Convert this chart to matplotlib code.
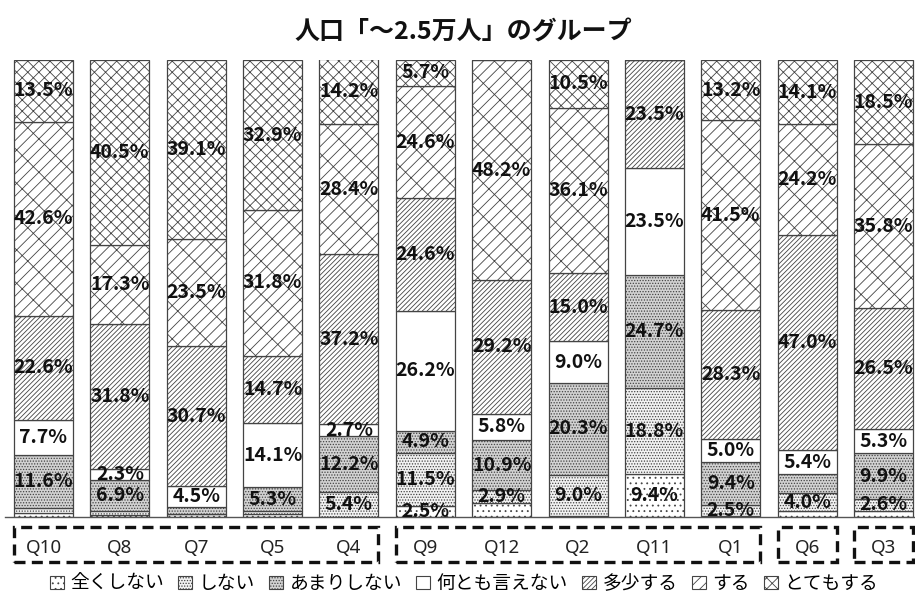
import numpy as np
import matplotlib
matplotlib.use("Agg")
import matplotlib.pyplot as plt
from matplotlib.patches import Rectangle, Patch

plt.rcParams['font.family'] = ['Noto Sans CJK JP', 'DejaVu Sans']
plt.rcParams['hatch.linewidth'] = 0.6

# 質問項目（左から）
questions = ["Q10", "Q8", "Q7", "Q5", "Q4", "Q9", "Q12", "Q2", "Q11", "Q1", "Q6", "Q3"]

# 回答の割合（%）、下から積み上げ
zenku   = [0.9, 0.4, 0.7, 0.6, 0.0, 2.5, 3.0, 0.1, 9.4, 0.1, 1.2, 1.4]
shinai  = [1.1, 0.8, 0.0, 0.6, 5.4, 11.5, 2.9, 9.0, 18.8, 2.5, 4.0, 2.6]
amari   = [11.6, 6.9, 1.5, 5.3, 12.2, 4.9, 10.9, 20.3, 24.7, 9.4, 4.1, 9.9]
nantomo = [7.7, 2.3, 4.5, 14.1, 2.7, 26.2, 5.8, 9.0, 23.5, 5.0, 5.4, 5.3]
tashou  = [22.6, 31.8, 30.7, 14.7, 37.2, 24.6, 29.2, 15.0, 23.5, 28.3, 47.0, 26.5]
suru    = [42.6, 17.3, 23.5, 31.8, 28.4, 24.6, 48.2, 36.1, 0.0, 41.5, 24.2, 35.8]
totemo  = [13.5, 40.5, 39.1, 32.9, 14.2, 5.7, 0.0, 10.5, 0.0, 13.2, 14.1, 18.5]

series_names = ["全くしない", "しない", "あまりしない", "何とも言えない", "多少する", "する", "とてもする"]
series = [zenku, shinai, amari, nantomo, tashou, suru, totemo]

# 数値を出さない区分（系列番号, 設問）
no_label = {(2, "Q6"), (0, "Q12")}

# 設問のまとまり（左端, 右端のインデックス）
groups = [(0, 4), (5, 9), (10, 10), (11, 11)]

# 塗りと網掛け
faces = ["white", "#f2f2f2", "#d2d2d2", "white", "white", "white", "white"]
hatches = ["...", "......", "......", "", "///////", "//x", "xxx"]

fig = plt.figure(figsize=(9.15, 5.99), dpi=100)
ax = fig.add_axes([0.0058, 0.137, 1.0015, 0.763])

x = np.arange(len(questions))
width = 0.773
bottom = np.zeros(len(questions))
for k, vals in enumerate(series):
    vals = np.array(vals)
    ax.bar(x, vals, width, bottom=bottom, color=faces[k], hatch=hatches[k],
           edgecolor="#444444", linewidth=0.9)
    for i, v in enumerate(vals):
        if v < 2.3 or (k, questions[i]) in no_label:
            continue
        ax.text(x[i], bottom[i] + v / 2, f"{v:.1f}%", ha="center", va="center",
                fontsize=14, fontweight="bold", color="#111111")
    bottom += vals

ax.set_xlim(-0.5, len(questions) - 0.5)
ax.set_ylim(0, 100)
ax.set_yticks([])
ax.set_xticks([])
for s in ["top", "left", "right"]:
    ax.spines[s].set_visible(False)
ax.spines["bottom"].set_color("#555555")
ax.spines["bottom"].set_linewidth(1.0)

# 設問ラベル
trans = ax.get_xaxis_transform()
for i, q in enumerate(questions):
    ax.text(x[i], -0.068, q, transform=trans, ha="center", va="center",
            fontsize=13.5, color="#222222", family=["Noto Sans", "DejaVu Sans"])

# 破線の枠
for a, b in groups:
    r = Rectangle((a - width / 2, -0.098), (b - a) + width, 0.076, transform=trans,
                  fill=False, edgecolor="#111111", linewidth=2.4,
                  linestyle=(0, (3.3, 1.9)), clip_on=False)
    ax.add_patch(r)

fig.suptitle("人口「～2.5万人」のグループ", x=0.506, y=0.965, fontsize=18,
             fontweight="bold", color="#111111")

handles = [Patch(facecolor=faces[k], hatch=hatches[k], edgecolor="#444444", linewidth=0.8)
           for k in range(len(series_names))]
fig.legend(handles, series_names, loc="center", bbox_to_anchor=(0.507, 0.026),
           ncol=7, frameon=False, fontsize=13.5, handlelength=0.75, handleheight=0.75,
           handletextpad=0.35, columnspacing=0.75, borderaxespad=0)

fig.savefig("out.png", dpi=100)
